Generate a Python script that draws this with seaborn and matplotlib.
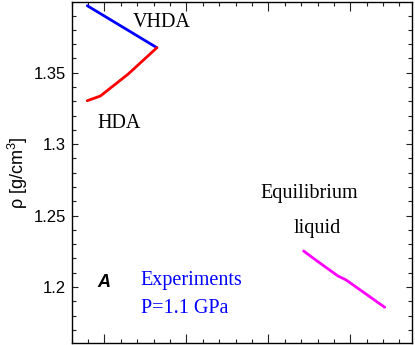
import pandas as pd
import numpy as np
import matplotlib
matplotlib.use("Agg")
import matplotlib.pyplot as plt
from matplotlib.ticker import MultipleLocator
import seaborn as sns

# Density vs temperature
vhda_T = [237.9, 246.4]
vhda_rho = [1.3969, 1.3675]

hda_T = [237.9, 239.5, 242.9, 246.4]
hda_rho = [1.3304, 1.3337, 1.3491, 1.3675]

liq_T = [264.3, 265.9, 268.5, 269.5, 274.2]
liq_rho = [1.2252, 1.2184, 1.2077, 1.2049, 1.1858]

phases = ["VHDA", "HDA", "Equilibrium liquid"]
colors = {"VHDA": "#0000ff", "HDA": "#ff0000", "Equilibrium liquid": "#ff00ff"}

df = pd.concat([
    pd.DataFrame({"T": vhda_T, "rho": vhda_rho, "phase": "VHDA"}),
    pd.DataFrame({"T": hda_T, "rho": hda_rho, "phase": "HDA"}),
    pd.DataFrame({"T": liq_T, "rho": liq_rho, "phase": "Equilibrium liquid"}),
])

sns.set_style("ticks")
plt.rcParams["font.family"] = ["Liberation Sans", "DejaVu Sans"]
plt.rcParams["mathtext.fontset"] = "custom"
plt.rcParams["mathtext.rm"] = "Liberation Sans"
for k in ["text.color", "axes.labelcolor", "xtick.color", "ytick.color", "axes.edgecolor"]:
    plt.rcParams[k] = "black"

fig = plt.figure(figsize=(4.15, 3.45), dpi=100)
ax = fig.add_axes([0.1728, 0.0058, 0.8193, 0.9884])

sns.lineplot(data=df, x="T", y="rho", hue="phase", hue_order=phases,
             palette=colors, sort=False, estimator=None, lw=2,
             legend=False, ax=ax)

ax.set_xlim(236, 277.5)
ax.set_ylim(1.1608, 1.3995)
ax.xaxis.set_major_locator(MultipleLocator(10))
ax.xaxis.set_minor_locator(MultipleLocator(2))
ax.yaxis.set_minor_locator(MultipleLocator(0.01))
ax.set_yticks([1.2, 1.25, 1.3, 1.35])
ax.set_yticklabels(["1.2", "1.25", "1.3", "1.35"])
ax.set_xticklabels([])
ax.set_xlabel("")
ax.tick_params(which="both", direction="in", top=True, right=True, width=0.8, color="#222222")
ax.tick_params(axis="x", which="major", length=6.5)
ax.tick_params(axis="x", which="minor", length=3)
ax.tick_params(axis="y", which="major", length=4.5, labelsize=12, pad=4)
ax.tick_params(axis="y", which="minor", length=3)
for s in ax.spines.values():
    s.set_linewidth(1.0)
ax.set_ylabel(r"ρ [g/cm$^{3}$]", fontsize=13, labelpad=3)

serif = ["Liberation Serif", "DejaVu Serif"]
ax.text(243.4, 1.3822, "VHDA", fontsize=14.5, family=serif, va="baseline")
ax.text(239.2, 1.3111, "HDA", fontsize=14.5, family=serif, va="baseline")
ax.text(259.0, 1.2621, "Equilibrium", fontsize=14.5, family=serif, va="baseline")
ax.text(263.1, 1.2376, "liquid", fontsize=14.5, family=serif, va="baseline")
ax.text(244.4, 1.2014, "Experiments", fontsize=14.5, family=serif, va="baseline", color="#0000ff")
ax.text(244.4, 1.1816, "P=1.1 GPa", fontsize=14.5, family=serif, va="baseline", color="#0000ff")
ax.text(239.1, 1.2002, "A", fontsize=13, fontweight="bold", fontstyle="italic", va="baseline")

fig.savefig("out.png", dpi=100)
